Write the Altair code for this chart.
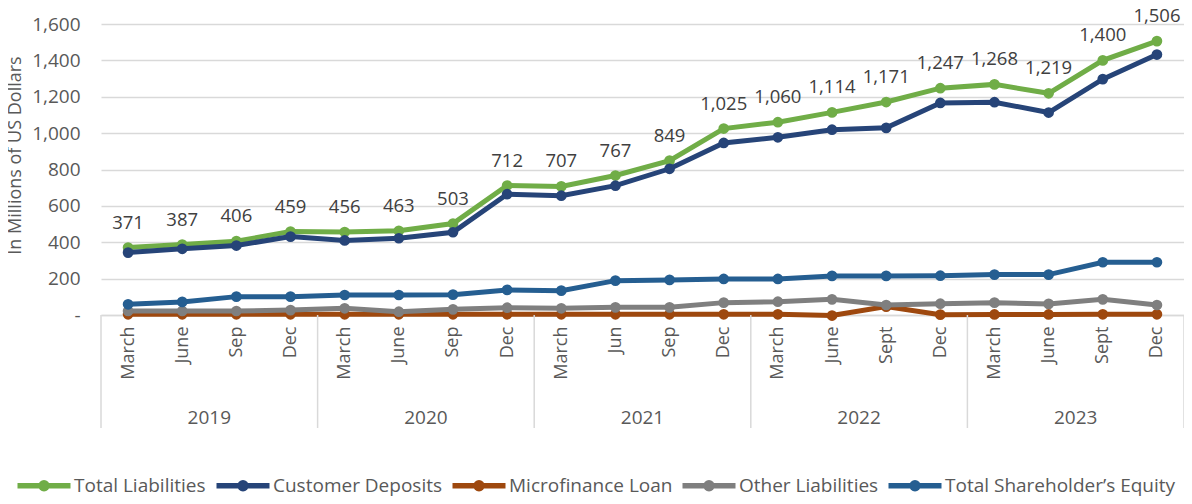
import altair as alt
import pandas as pd

months = ["March", "June", "Sep", "Dec", "March", "June", "Sep", "Dec",
          "March", "Jun", "Sep", "Dec", "March", "June", "Sept", "Dec",
          "March", "June", "Sept", "Dec"]
years = ["2019", "2020", "2021", "2022", "2023"]
series = ["Total Liabilities", "Customer Deposits", "Microfinance Loan",
          "Other Liabilities", "Total Shareholder\u2019s Equity"]
colors = ["#70ad47", "#264478", "#9e480e", "#7f7f7f", "#255e91"]

total_liabilities = [371, 387, 406, 459, 456, 463, 503, 712, 707, 767,
                     849, 1025, 1060, 1114, 1171, 1247, 1268, 1219, 1400, 1506]
customer_deposits = [343, 364, 382, 431, 410, 422, 455, 664, 656, 711,
                     804, 946, 977, 1019, 1029, 1166, 1170, 1113, 1297, 1432]
microfinance_loan = [4, 4, 4, 4, 4, 4, 4, 4, 4, 4,
                     4, 4, 4, -3, 46, 2, 3, 3, 4, 4]
other_liabilities = [22, 22, 22, 27, 37, 18, 31, 40, 37, 42,
                     42, 68, 73, 86, 55, 62, 68, 61, 86, 55]
shareholder_equity = [59, 72, 101, 101, 110, 110, 112, 138, 134, 189,
                      193, 198, 198, 215, 215, 216, 222, 222, 290, 290]

series_values = [total_liabilities, customer_deposits, microfinance_loan,
                 other_liabilities, shareholder_equity]

rows = []
for name, vals in zip(series, series_values):
    for i, v in enumerate(vals):
        rows.append({"series": name, "idx": i, "x": i + 0.5, "value": v})
df = pd.DataFrame(rows)

n = len(months)
per_year = n // len(years)
year_df = pd.DataFrame({"year": years,
                        "x": [k * per_year + per_year / 2 for k in range(len(years))]})
sep_df = pd.DataFrame({"x": [k * per_year for k in range(len(years) + 1)]})

FONT = "Open Sans"
AX = "#595959"
GRID = "#d9d9d9"

month_expr = "[" + ",".join("'" + m + "'" for m in months) + "][floor(datum.value)]"

x_scale = alt.Scale(domain=[0, n], nice=False, zero=False)
color_scale = alt.Scale(domain=series, range=colors)

legend_path = ("M-5.3,0L5.3,0"
               "M-0.6,0A0.6,0.6,0,1,0,0.6,0A0.6,0.6,0,1,0,-0.6,0Z")
legend = alt.Legend(
    title=None, orient="none", legendX=-66.5, legendY=452,
    direction="horizontal", symbolType=legend_path, symbolSize=100,
    symbolStrokeWidth=5.5, labelOffset=20.5, columnPadding=-1,
    labelFontSize=19, labelColor=AX, labelFont=FONT, padding=0,
    labelLimit=400, columns=5, symbolOpacity=1,
)

x_enc = alt.X(
    "x:Q", scale=x_scale, title=None,
    axis=alt.Axis(
        values=[i + 0.5 for i in range(n)], labelExpr=month_expr,
        labelAngle=270, labelAlign="right", labelBaseline="middle",
        labelPadding=11, labelFontSize=18, labelColor=AX, labelFont=FONT,
        ticks=False, grid=False, domainColor=GRID, domainWidth=1.5,
        labelOverlap=False, labelFlush=False,
    ),
)
y_enc = alt.Y(
    "value:Q", scale=alt.Scale(domain=[0, 1600], nice=False),
    title="In Millions of US Dollars",
    axis=alt.Axis(
        values=list(range(0, 1601, 200)),
        labelExpr="datum.value == 0 ? '-' : format(datum.value, ',')",
        labelFontSize=19, labelColor=AX, labelFont=FONT, labelPadding=21,
        ticks=False, domain=False, grid=True, gridColor=GRID, gridWidth=1.5,
        titleFont=FONT, titleFontSize=18, titleColor=AX, titleFontWeight="normal",
        titleAngle=270, titleX=-86, titleY=131, titleAlign="center",
        titleBaseline="middle",
    ),
)

layers = []
for k, name in enumerate(series):
    b = alt.Chart(df).transform_filter(alt.datum.series == name)
    line = b.mark_line(strokeWidth=5).encode(
        x=x_enc, y=y_enc,
        color=alt.Color("series:N", scale=color_scale, legend=legend),
    )
    pts = b.mark_circle(size=115, opacity=1).encode(
        x=x_enc, y=y_enc,
        color=alt.Color("series:N", scale=color_scale, legend=legend),
    )
    layers += [line, pts]

labels = alt.Chart(df).transform_filter(alt.datum.series == series[0]).mark_text(
    dy=-19, baseline="alphabetic", fontSize=18.5, color="#404040", font=FONT
).encode(
    x=x_enc, y=y_enc,
    text=alt.Text("value:Q", format=","),
)

seps = alt.Chart(sep_df).mark_rule(color=GRID, strokeWidth=1.5).encode(
    x=x_enc,
    y=alt.value(291), y2=alt.value(404),
)

year_text = alt.Chart(year_df).mark_text(
    fontSize=19, color=AX, font=FONT, baseline="middle"
).encode(
    x=x_enc,
    y=alt.value(394),
    text="year:N",
)

chart = alt.layer(*layers, labels, seps, year_text).properties(
    width=1083, height=291,
    autosize=alt.AutoSizeParams(type="none"),
    padding={"left": 93, "top": 16, "right": 0, "bottom": 181},
).configure_view(stroke=None)

chart.save("out.html", embed_options={"renderer": "svg", "actions": False})
